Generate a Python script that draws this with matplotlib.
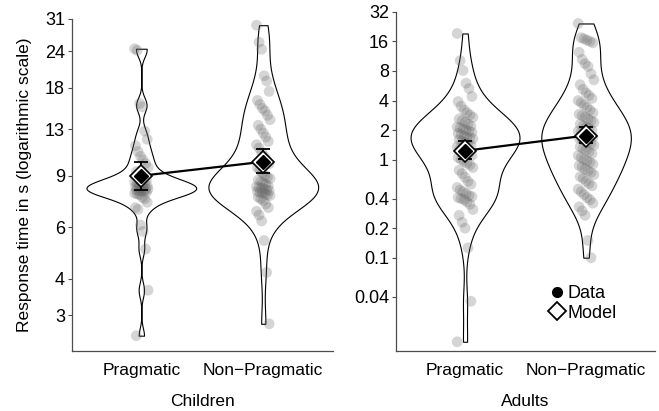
import numpy as np
import matplotlib.pyplot as plt
from matplotlib import cbook
from matplotlib.lines import Line2D

plt.rcParams['font.family'] = ['Liberation Sans', 'DejaVu Sans']

categories = ['Pragmatic', 'Non\u2212Pragmatic']

# response times (s)
child_prag = [24.5, 24.2, 15.9, 15.5, 12.8, 12.0, 11.4, 10.9, 10.5, 10.2, 9.9, 9.6,
              9.3, 9.1, 8.9, 8.8, 8.7, 8.6, 8.5, 8.45, 8.4, 8.35, 8.3, 8.25, 8.2, 8.2,
              8.15, 8.1, 8.1, 8.05, 8.0, 8.0, 7.95, 7.9, 7.85, 7.8, 7.75, 7.6, 7.5,
              7.3, 7.0, 6.9, 6.1, 5.8, 5.05, 3.65, 2.55]
child_nonprag = [29.5, 25.8, 24.4, 19.8, 19.0, 17.5, 16.3, 15.8, 15.3, 15.0, 14.5, 14.0,
                 13.4, 13.0, 12.6, 12.2, 11.8, 11.5, 11.2, 10.8, 10.5, 10.2, 9.9, 9.6,
                 9.4, 9.2, 9.0, 8.9, 8.8, 8.7, 8.6, 8.5, 8.4, 8.3, 8.25, 8.2, 8.15, 8.1,
                 8.05, 8.0, 7.95, 7.9, 7.85, 7.8, 7.75, 7.7, 7.6, 7.5, 7.4, 7.2, 7.0,
                 6.8, 6.6, 6.3, 5.4, 4.2, 2.8]
adult_prag = [19.3, 10.2, 8.1, 6.0, 5.3, 4.4, 3.9, 3.5,
              3.2, 3.0, 2.85, 2.7, 2.6, 2.5, 2.4, 2.3, 2.2, 2.15, 2.1, 2.05, 2.0, 1.95,
              1.9, 1.85, 1.8, 1.75, 1.7, 1.67, 1.63, 1.6, 1.55, 1.5, 1.45, 1.4, 1.35,
              1.3, 1.25, 1.2, 1.15, 1.1, 1.05, 1.0,
              0.96, 0.92, 0.88, 0.83, 0.78, 0.72, 0.66, 0.6,
              0.56, 0.52, 0.49, 0.47, 0.45, 0.43, 0.42, 0.41, 0.40, 0.39, 0.37, 0.35,
              0.31, 0.27, 0.23, 0.2, 0.126, 0.036, 0.0139]
adult_nonprag = [24.4, 17.5, 17.0, 16.5, 16.0, 15.5, 12.4, 10.5, 9.5, 8.9, 7.5, 6.5,
                 5.8, 5.2, 4.8, 4.5, 4.2, 4.0, 3.8, 3.6, 3.4, 3.2, 3.0, 2.9, 2.8, 2.7,
                 2.6, 2.5, 2.4, 2.3, 2.2, 2.15, 2.1, 2.0, 1.95, 1.9, 1.85, 1.8, 1.75, 1.7,
                 1.65, 1.6, 1.55, 1.5, 1.45, 1.4, 1.35, 1.3, 1.25, 1.2, 1.15, 1.1, 1.05,
                 1.0, 0.97, 0.94, 0.9, 0.87, 0.84, 0.8, 0.77, 0.74, 0.7, 0.67, 0.64, 0.6,
                 0.57, 0.54, 0.5, 0.47, 0.44, 0.41, 0.39, 0.36, 0.33, 0.30, 0.27, 0.15,
                 0.10]

# means and error bars
child_mean = [9.0, 10.05]
child_lo = [8.06, 9.2]
child_hi = [10.05, 11.14]
adult_mean = [1.23, 1.76]
adult_lo = [1.02, 1.46]
adult_hi = [1.53, 2.17]

child_ticks = [3, 4, 6, 9, 13, 18, 24, 31]
adult_ticks = [0.04, 0.1, 0.2, 0.4, 1, 2, 4, 8, 16, 32]


def kde(x, coords):
    # gaussian kde, bandwidth like R's nrd0
    x = np.asarray(x)
    sd = x.std(ddof=1)
    iqr = np.subtract(*np.percentile(x, [75, 25]))
    bw = 0.9 * min(sd, iqr / 1.34) * len(x) ** -0.2
    d = (coords[:, None] - x[None, :]) / bw
    return np.exp(-0.5 * d ** 2).sum(axis=1)


def panel(ax, groups, means, lo, hi, widths, ticks, ylim, xlabel, jit):
    stats = cbook.violin_stats([np.log10(g) for g in groups], kde, points=300)
    for s in stats:
        s['coords'] = 10 ** s['coords']
        for k in ('mean', 'median', 'min', 'max'):
            s[k] = 10 ** s[k]
    parts = ax.violin(stats, positions=[1, 2], widths=widths,
                      showmeans=False, showextrema=False, showmedians=False)
    for b in parts['bodies']:
        b.set_facecolor('white')
        b.set_edgecolor('black')
        b.set_linewidth(0.8)
        b.set_alpha(1)
    for i, g in enumerate(groups):
        n = len(g)
        off = np.array([((k * 37) % 17 - 8) / 8 for k in range(n)]) * jit
        ax.scatter(i + 1 + off, g, s=60, color='0.4', alpha=0.27,
                   edgecolors='none', zorder=3)
    pos = [1, 2]
    ax.plot(pos, means, color='black', lw=1.6, zorder=4)
    yerr = [np.array(means) - np.array(lo), np.array(hi) - np.array(means)]
    ax.errorbar(pos, means, yerr=yerr, fmt='none', ecolor='black',
                elinewidth=1.3, capsize=5, capthick=1.3, zorder=5)
    ax.plot(pos, means, 'D', ms=11, mfc='white', mec='black', mew=1.2, ls='none', zorder=6)
    ax.plot(pos, means, 'D', ms=7, color='black', ls='none', zorder=7)
    ax.set_yscale('log')
    ax.set_ylim(*ylim)
    ax.set_yticks(ticks)
    ax.set_yticklabels([str(t) for t in ticks])
    ax.minorticks_off()
    ax.set_xlim(0.43, 2.57)
    ax.set_xticks(pos)
    ax.set_xticklabels(categories, fontsize=12.5)
    ax.set_xlabel(xlabel, fontsize=12.5, labelpad=11)
    ax.tick_params(axis='x', length=0, pad=9)
    ax.tick_params(axis='y', length=3, labelsize=13, color='0.3', pad=2)
    for sp in ('top', 'right'):
        ax.spines[sp].set_visible(False)
    for sp in ('left', 'bottom'):
        ax.spines[sp].set_color('0.3')
        ax.spines[sp].set_linewidth(0.9)


fig = plt.figure(figsize=(6.59, 4.11), dpi=100)
ax1 = fig.add_axes([0.109, 0.146, 0.396, 0.808])
ax2 = fig.add_axes([0.601, 0.146, 0.393, 0.825])

panel(ax1, [child_prag, child_nonprag], child_mean, child_lo, child_hi,
      [0.9, 0.9], child_ticks, (2.26, 31), 'Children', 0.055)
ax1.set_ylabel('Response time in s (logarithmic scale)', fontsize=12.5, labelpad=9)

panel(ax2, [adult_prag, adult_nonprag], adult_mean, adult_lo, adult_hi,
      [0.9, 0.74], adult_ticks, (0.0112, 32), 'Adults', 0.065)

handles = [Line2D([], [], marker='o', color='black', ls='none', ms=7),
           Line2D([], [], marker='D', mfc='white', mec='black', mew=1.3, ls='none', ms=9)]
ax2.legend(handles, ['Data', 'Model'], loc='lower left', bbox_to_anchor=(0.55, 0.065),
           frameon=False, fontsize=13, handletextpad=0.0, labelspacing=0.15,
           handlelength=1.2, borderaxespad=0)

fig.savefig('out.png', dpi=100)
